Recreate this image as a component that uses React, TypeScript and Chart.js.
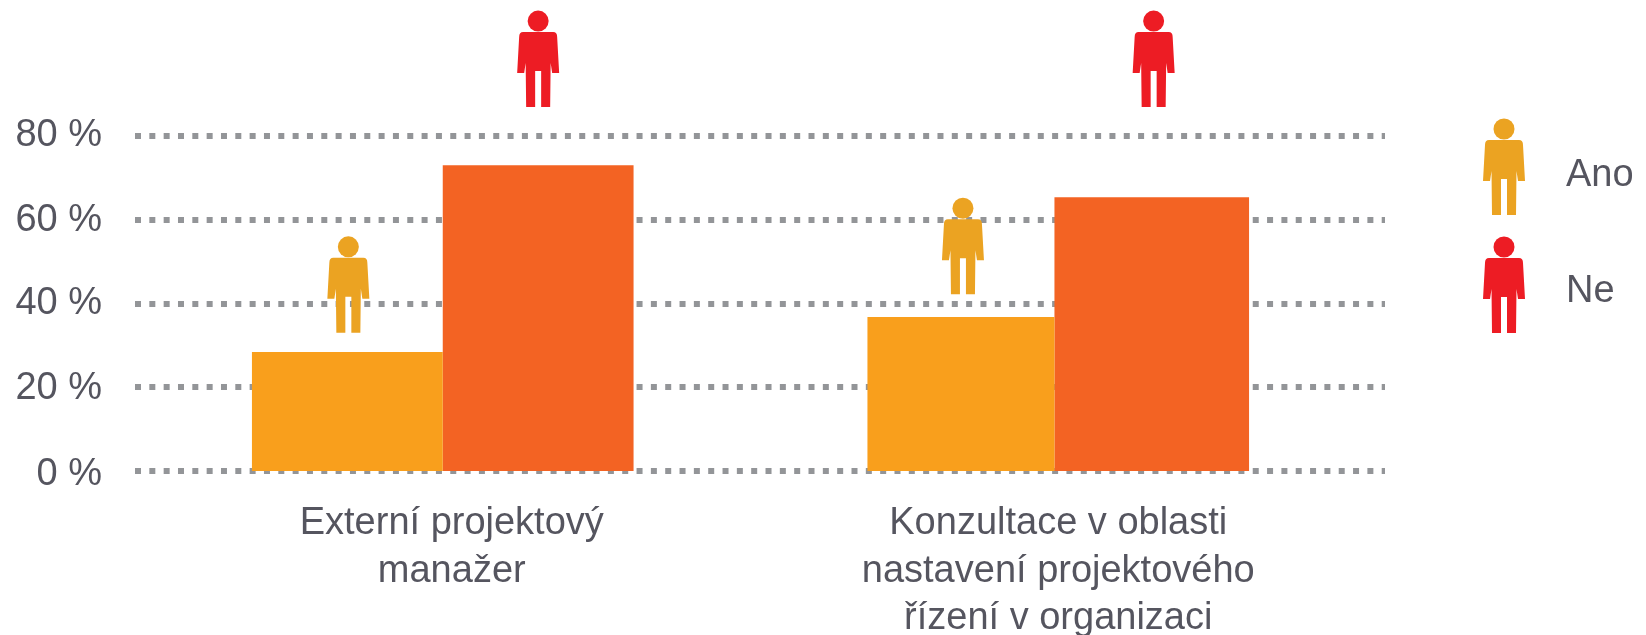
import React, { useEffect, useRef } from "react";
import { Chart, registerables } from "chart.js";

Chart.register(...registerables);

const categories = [["Externí projektový", "manažer"], ["Konzultace v oblasti", "nastavení projektového", "řízení v organizaci"]];
const anoValues = [28.4, 36.8];
const neValues = [73, 65.4];
const anoIconBase = [33, 42.2];
const neIconBase = [86.9, 86.9];
const tickValues = [0, 20, 40, 60, 80];

const FONT = "'Liberation Sans', sans-serif";
const TEXT = "#55555f";
const ICON_ANO = "#EBA322";
const ICON_RED = "#ED1C24";
const DOT = 6;
const GAP = 8.33;

function person(ctx: CanvasRenderingContext2D, cx: number, bottom: number, color: string) {
  const t = bottom - 97;
  ctx.save();
  ctx.filter = "blur(0.5px)";
  ctx.fillStyle = color;
  ctx.beginPath();
  ctx.arc(cx, t + 11, 10.5, 0, Math.PI * 2);
  ctx.fill();
  ctx.beginPath();
  ctx.moveTo(cx - 15, t + 22);
  ctx.lineTo(cx + 15, t + 22);
  ctx.quadraticCurveTo(cx + 19, t + 22, cx + 19, t + 27);
  ctx.lineTo(cx + 21, t + 63);
  ctx.lineTo(cx + 14, t + 63);
  ctx.lineTo(cx + 12.5, t + 53);
  ctx.lineTo(cx + 12, t + 97);
  ctx.lineTo(cx + 3, t + 97);
  ctx.lineTo(cx + 3, t + 61);
  ctx.lineTo(cx - 3, t + 61);
  ctx.lineTo(cx - 3, t + 97);
  ctx.lineTo(cx - 12, t + 97);
  ctx.lineTo(cx - 12.5, t + 53);
  ctx.lineTo(cx - 14, t + 63);
  ctx.lineTo(cx - 21, t + 63);
  ctx.lineTo(cx - 19, t + 27);
  ctx.quadraticCurveTo(cx - 19, t + 22, cx - 15, t + 22);
  ctx.closePath();
  ctx.fill();
  ctx.restore();
}

const gridExtension = {
  id: "gridExtension",
  beforeDatasetsDraw(chart: any) {
    const { ctx, chartArea, scales } = chart;
    ctx.save();
    ctx.strokeStyle = "#939598";
    ctx.lineWidth = DOT;
    ctx.setLineDash([DOT, GAP]);
    ctx.lineDashOffset = (chartArea.right - chartArea.left) % (DOT + GAP);
    for (const tick of scales.y.ticks) {
      const y = Math.round(scales.y.getPixelForValue(tick.value));
      ctx.beginPath();
      ctx.moveTo(chartArea.right, y);
      ctx.lineTo(chartArea.right + 19, y);
      ctx.stroke();
    }
    ctx.restore();
  },
};

const barSplit = {
  id: "barSplit",
  afterDatasetsUpdate(chart: any) {
    const a = chart.getDatasetMeta(0).data[1];
    const b = chart.getDatasetMeta(1).data[1];
    a.x -= 1.9;
    a.width -= 3.8;
    b.x -= 1.9;
    b.width += 3.8;
    const zero = chart.scales.y.getPixelForValue(0);
    [0, 1].forEach((d) => chart.getDatasetMeta(d).data.forEach((bar: any) => { bar.base = zero; }));
  },
};

const labelNudge = {
  id: "labelNudge",
  beforeDraw(chart: any) {
    const xItems = chart.scales.x.getLabelItems();
    if (xItems[0] && !xItems[0].nudged) {
      xItems[0].options.translation[0] += 9;
      xItems[0].nudged = true;
    }
    const yShift: Record<string, number> = { "0 %": 4, "20 %": 1, "60 %": 1 };
    for (const item of chart.scales.y.getLabelItems()) {
      if (!item.nudged) {
        item.options.translation[1] += yShift[item.label] || 0;
        item.nudged = true;
      }
    }
  },
};

const icons = {
  id: "icons",
  afterDatasetsDraw(chart: any) {
    const { ctx, scales } = chart;
    const y = scales.y;
    chart.getDatasetMeta(0).data.forEach((bar: any, i: number) => {
      person(ctx, bar.x + (i === 1 ? 2 : 1), y.getPixelForValue(anoIconBase[i]), ICON_ANO);
    });
    chart.getDatasetMeta(1).data.forEach((bar: any, i: number) => {
      person(ctx, bar.x + (i === 1 ? 1.9 : 0), y.getPixelForValue(neIconBase[i]), ICON_RED);
    });
    const entries = [
      { label: chart.data.datasets[0].label, color: ICON_ANO, bottom: 215, textY: 176 },
      { label: chart.data.datasets[1].label, color: ICON_RED, bottom: 333, textY: 292 },
    ];
    ctx.save();
    ctx.font = `38px ${FONT}`;
    ctx.textBaseline = "middle";
    ctx.textAlign = "left";
    for (const e of entries) {
      person(ctx, 1504, e.bottom, e.color);
      ctx.fillStyle = TEXT;
      ctx.fillText(e.label, 1566, e.textY);
    }
    ctx.restore();
  },
};

export default function App() {
  const ref = useRef<HTMLCanvasElement>(null);
  useEffect(() => {
    const chart = new Chart(ref.current as HTMLCanvasElement, {
      type: "bar",
      data: {
        labels: categories as any,
        datasets: [
          { label: "Ano", data: anoValues, backgroundColor: "#F99F1C", barPercentage: 1, categoryPercentage: 0.62, clip: false },
          { label: "Ne", data: neValues, backgroundColor: "#F36323", barPercentage: 1, categoryPercentage: 0.62, clip: false },
        ],
      },
      options: {
        responsive: false,
        animation: false,
        layout: { padding: { left: 0, right: 280, top: 136, bottom: 0 } },
        plugins: { legend: { display: false }, tooltip: { enabled: false } },
        scales: {
          x: {
            grid: { display: false },
            border: { display: false },
            afterFit(s: any) { s.height = 164; },
            ticks: {
              autoSkip: false,
              maxRotation: 0,
              padding: 21,
              color: TEXT,
              font: { family: FONT, size: 38, lineHeight: 1.25 },
            },
          },
          y: {
            min: 0,
            max: 80,
            afterBuildTicks(s: any) { s.ticks = tickValues.map((value) => ({ value })); },
            afterFit(s: any) { s.width = 135; },
            border: { display: false, dash: [DOT, GAP] },
            grid: { color: "#939598", lineWidth: DOT, drawTicks: false, tickLength: 0 },
            ticks: {
              padding: 33,
              color: TEXT,
              font: { family: FONT, size: 38 },
              callback: (v: any) => `${v} %`,
            },
          },
        },
      },
      plugins: [gridExtension, barSplit, labelNudge, icons],
    } as any);
    return () => chart.destroy();
  }, []);
  return (
    <div style={{ position: "absolute", left: 0, top: 0, width: 1646, height: 635, background: "#fff" }}>
      <canvas ref={ref} width={1646} height={635} style={{ display: "block" }} />
    </div>
  );
}
